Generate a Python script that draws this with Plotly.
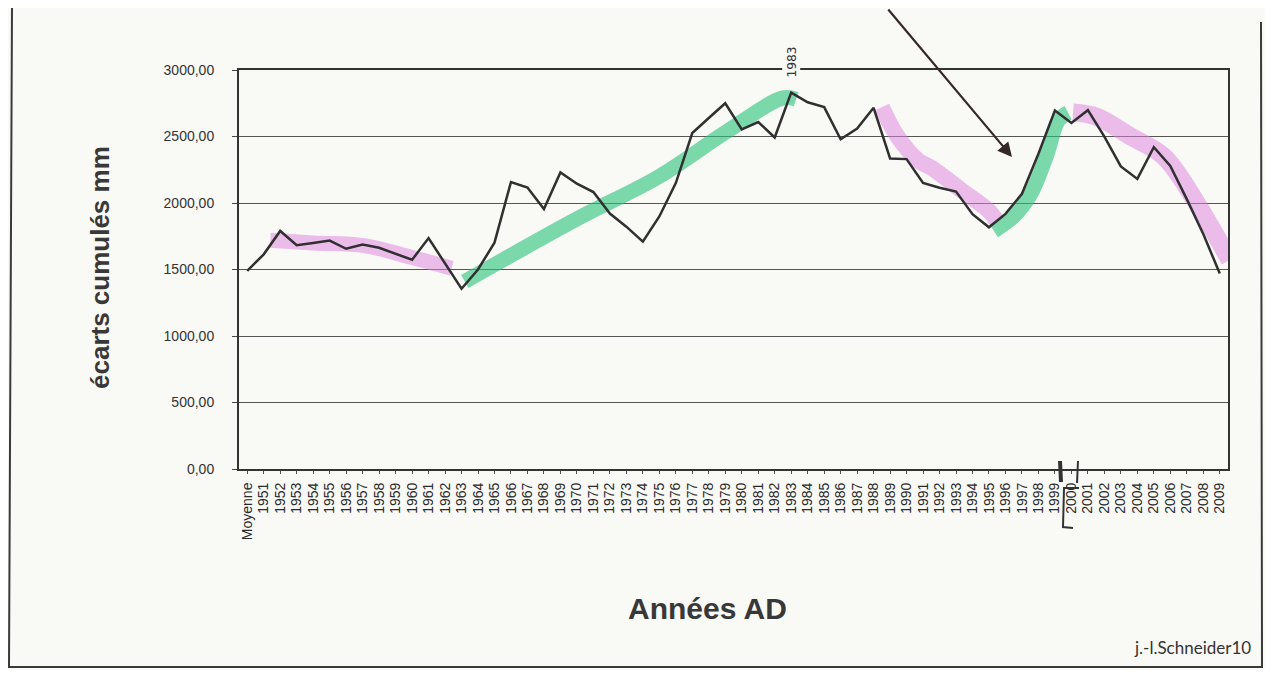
import plotly.graph_objects as go

# ---------------- data ----------------
categories = ["Moyenne"] + [str(y) for y in range(1951, 2010)]
values = [1490, 1614, 1790, 1683, 1700, 1718, 1656, 1687, 1663, 1621,
          1573, 1736, 1549, 1355, 1500, 1702, 2158, 2116, 1955, 2230,
          2145, 2082, 1921, 1822, 1710, 1899, 2150, 2526, 2639, 2750,
          2554, 2609, 2493, 2830, 2757, 2721, 2479, 2560, 2716, 2335,
          2330, 2151, 2115, 2086, 1916, 1817, 1918, 2069, 2370, 2696,
          2602, 2698, 2499, 2275, 2181, 2419, 2278, 2029, 1767, 1470]

y_tickvals = [0, 500, 1000, 1500, 2000, 2500, 3000]
y_ticktext = ["0,00", "500,00", "1000,00", "1500,00", "2000,00", "2500,00", "3000,00"]

# hand-drawn highlighter strokes (category index positions, values)
pink1_x = [1.4, 4.0, 7.1, 10.0, 12.4]
pink1_y = [1720, 1700, 1680, 1590, 1510]
green1_x = [13.2, 20.0, 25.0, 29.0, 32.5, 33.3]
green1_y = [1410, 1880, 2200, 2530, 2790, 2780]
pink2_x = [38.5, 39.4, 40.7, 41.5, 43.4, 45.0, 45.5]
pink2_y = [2720, 2510, 2320, 2265, 2090, 1940, 1860]
green2_x = [45.3, 46.5, 47.5, 48.5, 49.2, 49.8]
green2_y = [1790, 1900, 2060, 2360, 2620, 2680]
pink3_x = [50.1, 51.5, 53.6, 55.6, 57.6, 59.6]
pink3_y = [2680, 2650, 2500, 2350, 2000, 1570]

# ---------------- layout geometry ----------------
OFF = 8                      # page offset of the figure div (body margin)
W, H = 1273 - 2 * OFF, 677 - 2 * OFF   # fit inside the window without scrollbars
PL, PR, PT, PB = 239, 1228, 70, 469   # plot area in page pixels
PAPER = "#f9f9f6"
PINK = "rgba(222,130,222,0.52)"
GREEN = "rgba(45,195,125,0.62)"


def px(x):
    return (x - PL) / (PR - PL)


def py(y):
    return (PB - y) / (PB - PT)


idx = list(range(len(categories)))

fig = go.Figure()
for xs, ys, col, w in [(pink1_x, pink1_y, PINK, 15), (green1_x, green1_y, GREEN, 15),
                       (pink2_x, pink2_y, PINK, 16), (green2_x, green2_y, GREEN, 15),
                       (pink3_x, pink3_y, PINK, 18)]:
    fig.add_trace(go.Scatter(x=xs, y=ys, mode="lines", line=dict(color=col, width=w, shape="spline"),
                             hoverinfo="skip", showlegend=False))

fig.add_trace(go.Scatter(x=idx, y=values, mode="lines", line=dict(color="#303030", width=2.5),
                         showlegend=False, text=categories, hovertemplate="%{text}: %{y}<extra></extra>"))

fig.update_layout(
    width=W, height=H,
    margin=dict(l=PL - OFF, r=W - (PR - OFF), t=PT - OFF, b=H - (PB - OFF)),
    paper_bgcolor=PAPER, plot_bgcolor=PAPER,
    font=dict(family="Liberation Sans, Arial, sans-serif", color="#2a2a2a"),
    showlegend=False,
)
fig.update_xaxes(
    range=[-0.5, len(categories) - 0.5], tickmode="array", tickvals=idx, ticktext=categories,
    tickangle=-90, tickfont=dict(size=14, color="#2a2a2a"), showgrid=False, zeroline=False,
    showline=True, mirror=True, linecolor="#333", linewidth=2,
    ticks="outside", ticklen=3, tickcolor="#555", ticklabelstandoff=3,
)
fig.update_yaxes(
    range=[0, 3000], tickmode="array", tickvals=y_tickvals, ticktext=y_ticktext,
    tickfont=dict(size=14, color="#333"), showgrid=True, gridcolor="#555", gridwidth=1,
    zeroline=False, showline=True, mirror=True, linecolor="#333", linewidth=2,
    ticks="outside", ticklen=5, tickcolor="#444", ticklabelstandoff=15,
)

ann = []
ann.append(dict(text="<b>écarts cumulés mm</b>", xref="paper", yref="paper", x=px(100), y=py(268),
                xanchor="center", yanchor="middle",
                textangle=-90, showarrow=False, font=dict(size=26, color="#383838")))
ann.append(dict(text="<b>Années AD</b>", xref="paper", yref="paper", x=px(707), y=py(608),
                xanchor="center", yanchor="middle",
                showarrow=False, font=dict(size=30, color="#383838")))
ann.append(dict(text="j.-l.Schneider10", xref="paper", yref="paper", x=px(1253), y=py(660),
                xanchor="right", showarrow=False, font=dict(size=17, color="#333", family="Lato, sans-serif")))
ann.append(dict(text="1983", xref="x", yref="paper", x=categories.index("1983"), y=py(45),
                textangle=-90, showarrow=False, bgcolor=PAPER,
                font=dict(size=13, color="#333", family="DejaVu Sans Mono, monospace")))
ann.append(dict(text="", xref="paper", yref="paper", x=px(1012), y=py(157), ax=887 - 1012, ay=OFF - 157,
                showarrow=True, arrowhead=2, arrowsize=1.3, arrowwidth=2.2, arrowcolor="#352828"))
fig.update_layout(annotations=ann)

shapes = []
line_style = dict(color="#3a3a3a", width=2)
# outer frame (drawn as one open path)
shapes.append(dict(type="path", xref="paper", yref="paper",
                   path=(f"M {px(12)},{py(OFF)} L {px(9)},{py(667)} L {px(1262)},{py(667)} "
                         f"L {px(1261)},{py(22)}"),
                   line=line_style))
# hand marks near 1999 / 2000
shapes.append(dict(type="line", xref="paper", yref="paper", x0=px(1060), y0=py(461), x1=px(1061), y1=py(482),
                   line=dict(color="#333", width=4)))
shapes.append(dict(type="line", xref="paper", yref="paper", x0=px(1078), y0=py(461), x1=px(1077), y1=py(483),
                   line=dict(color="#333", width=2)))
shapes.append(dict(type="path", xref="paper", yref="paper",
                   path=f"M {px(1079)},{py(488)} L {px(1064)},{py(488)} L {px(1063)},{py(527)} L {px(1073)},{py(528)}",
                   line=dict(color="#333", width=2)))
fig.update_layout(shapes=shapes)

fig.write_html("out.html")
